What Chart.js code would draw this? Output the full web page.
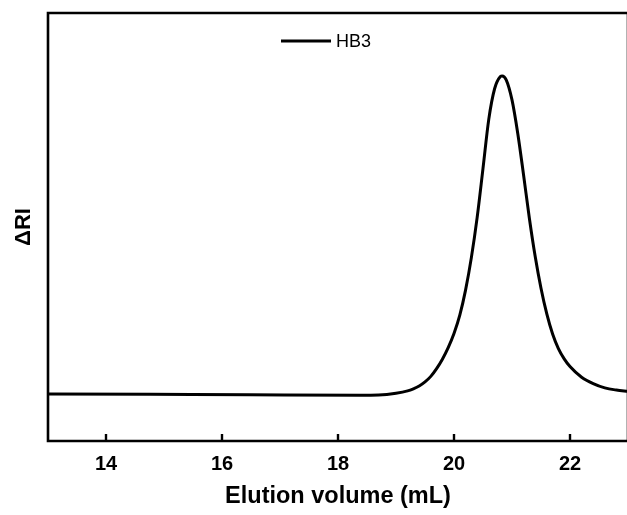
<!DOCTYPE html>
<html>
<head>
<meta charset="utf-8">
<script src="https://cdn.jsdelivr.net/npm/chart.js@4/dist/chart.umd.min.js"></script>
<style>
  html, body { margin: 0; padding: 0; background: #fff; overflow: hidden; }
  #wrap { width: 632px; height: 515px; }
</style>
</head>
<body>
<div id="wrap"><canvas id="gpc"></canvas></div>
<script>
// elution trace (mL vs. relative RI response)
const volume = [13.0, 14.76, 16.48, 18.38, 18.7, 19.0, 19.2, 19.3, 19.4, 19.5, 19.6, 19.7, 19.8, 19.9, 20.0, 20.1, 20.2, 20.3, 20.4, 20.5, 20.6, 20.7, 20.8, 20.83, 20.9, 21.0, 21.1, 21.2, 21.3, 21.4, 21.5, 21.6, 21.7, 21.8, 21.9, 22.0, 22.2, 22.4, 22.6, 22.8, 23.0];
const signal = [11.0, 10.9, 10.8, 10.7, 10.75, 11.15, 11.7, 12.2, 12.85, 13.8, 15.1, 16.9, 19.1, 21.8, 25.1, 29.4, 35.3, 42.9, 52.3, 63.7, 75.2, 82.3, 85.15, 85.3, 84.4, 79.7, 71.8, 62.1, 52.0, 43.1, 35.7, 29.7, 25.0, 21.6, 19.2, 17.4, 14.9, 13.4, 12.4, 11.9, 11.6];
const xTicks = [14, 16, 18, 20, 22];
const seriesName = 'HB3';

const points = volume.map((v, i) => ({ x: v, y: signal[i] }));

// frame, inward tick marks and the in-plot legend
const framePlugin = {
  id: 'frame',
  afterDraw(chart) {
    const ctx = chart.ctx;
    const a = chart.chartArea;
    const xs = chart.scales.x;
    ctx.save();
    ctx.strokeStyle = '#000';
    ctx.lineWidth = 2.6;
    ctx.beginPath();
    ctx.moveTo(a.right, a.top);
    ctx.lineTo(a.left, a.top);
    ctx.lineTo(a.left, a.bottom);
    ctx.lineTo(a.right, a.bottom);
    ctx.lineTo(a.right, a.top);
    ctx.stroke();

    ctx.lineWidth = 2.4;
    xTicks.forEach(function (t) {
      let px = xs.getPixelForValue(t);
      ctx.beginPath();
      ctx.moveTo(px, a.bottom);
      ctx.lineTo(px, a.bottom - 7);
      ctx.stroke();
    });

    // legend
    let ly = 41;
    ctx.lineWidth = 3;
    ctx.beginPath();
    ctx.moveTo(281, ly);
    ctx.lineTo(331, ly);
    ctx.stroke();
    ctx.fillStyle = '#000';
    ctx.font = '18px "Liberation Sans", Arial, sans-serif';
    ctx.textBaseline = 'middle';
    ctx.textAlign = 'left';
    ctx.fillText(chart.data.datasets[0].label, 336, ly + 1);
    ctx.restore();
  },
};

new Chart(document.getElementById('gpc'), {
  type: 'line',
  data: {
    datasets: [
      {
        label: seriesName,
        data: points,
        borderColor: '#000',
        borderWidth: 3,
        pointRadius: 0,
        fill: false,
        cubicInterpolationMode: 'monotone',
      },
    ],
  },
  options: {
    responsive: true,
    maintainAspectRatio: false,
    animation: false,
    layout: { padding: { top: 13, right: 4, left: 0, bottom: 0 } },
    plugins: {
      legend: { display: false },
      tooltip: { enabled: false },
    },
    scales: {
      x: {
        type: 'linear',
        min: 13,
        max: 23,
        border: { display: false },
        grid: { display: false, drawTicks: false },
        afterBuildTicks: function (scale) {
          scale.ticks = xTicks.map((v) => ({ value: v }));
        },
        afterFit: function (scale) {
          scale.height = 74;
        },
        ticks: {
          padding: 11,
          color: '#000',
          font: { family: '"Liberation Sans", Arial, sans-serif', size: 20, weight: 'bold' },
        },
        title: {
          display: true,
          text: 'Elution volume (mL)',
          color: '#000',
          padding: { top: 8 },
          font: { family: '"Liberation Sans", Arial, sans-serif', size: 23.5, weight: 'bold' },
        },
      },
      y: {
        min: 0,
        max: 100,
        border: { display: false },
        grid: { display: false, drawTicks: false },
        ticks: { display: false },
        afterFit: function (scale) {
          scale.width = 48;
        },
        title: {
          display: true,
          text: 'ΔRI',
          color: '#000',
          padding: { top: 11 },
          font: { family: '"Liberation Sans", Arial, sans-serif', size: 22, weight: 'bold' },
        },
      },
    },
  },
  plugins: [framePlugin],
});
</script>
</body>
</html>
